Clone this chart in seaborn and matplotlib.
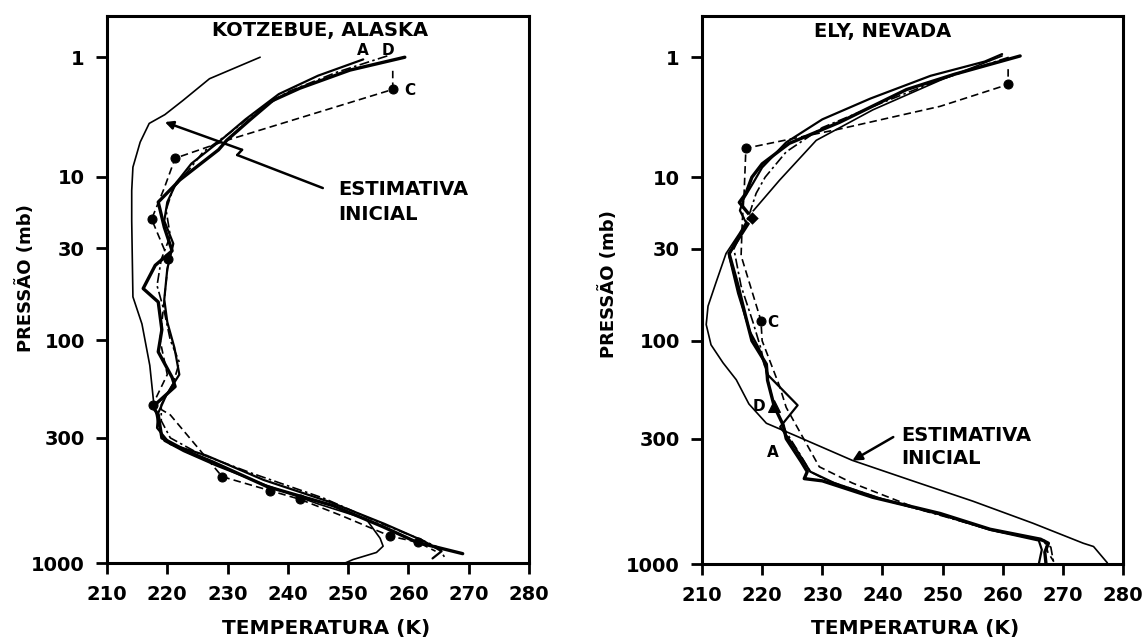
import numpy as np
import matplotlib
matplotlib.use("Agg")
import matplotlib.pyplot as plt
from matplotlib.ticker import FixedLocator, NullLocator
import seaborn as sns

# ---------------------------------------------------------------------------
# Temperature profiles (K) against pressure (mb)
# ---------------------------------------------------------------------------
pressure_ticks = [1, 10, 30, 100, 300, 1000]
pressure_labels = ["1", "10", "30", "100", "300", "1000"]
temp_ticks = [210, 220, 230, 240, 250, 260, 270, 280]
temp_labels = ["210", "220", "230", "240", "250", "260", "270", "280"]

# Kotzebue, Alaska
kotz_guess_T = [235.4, 227.0, 222.6, 219.6, 217.0, 215.5, 214.3, 214.1, 214.1, 214.2,
                214.3, 215.8, 217.1, 217.7, 218.5, 219.5, 222.7, 228.2, 236.0, 245.0,
                253.0, 255.3, 255.8, 254.7, 250.8, 249.5]
kotz_guess_p = [1.0, 1.6, 2.5, 3.3, 3.9, 5.5, 8.5, 12.5, 20, 35,
                58, 82, 135, 200, 260, 310, 345, 400, 480, 580,
                670, 800, 860, 910, 970, 1000]

kotz_a_T = [252.5, 245.0, 238.5, 233.0, 228.5, 224.0, 221.5, 220.0, 219.5, 221.0,
            220.0, 219.5, 220.0, 221.2, 222.0, 219.8, 218.5, 218.3, 220.5, 226.5,
            236.0, 247.0, 256.0, 262.5, 265.5, 264.0]
kotz_a_p = [1.05, 1.5, 2.2, 3.6, 5.5, 8, 11, 15, 20, 28,
            40, 60, 80, 110, 150, 190, 230, 270, 320, 360,
            460, 570, 700, 820, 900, 960]

kotz_b_T = [259.4, 250.3, 242.0, 237.5, 233.7, 229.9, 228.5, 222.1, 218.5, 219.5,
            220.8, 218.0, 216.0, 218.5, 219.1, 218.5, 220.8, 221.3, 217.6, 218.5,
            219.1, 223.3, 227.6, 236.5, 247.5, 255.8, 261.4, 264.0, 269.0]
kotz_b_p = [1.0, 1.33, 1.95, 2.5, 3.65, 5.3, 6.3, 10.5, 15, 22,
            31, 38, 52, 62, 88, 115, 155, 172, 215, 235,
            300, 345, 385, 490, 590, 720, 830, 860, 920]

kotz_d_T = [256.5, 248.0, 240.0, 234.5, 230.5, 226.0, 223.5, 221.0, 219.8, 220.5,
            219.0, 218.3, 219.5, 220.5, 222.0, 221.0, 219.0, 219.0, 220.5, 225.0,
            234.0, 246.0, 255.0, 261.0, 265.0, 266.0]
kotz_d_p = [0.97, 1.4, 2.1, 3.2, 4.6, 6.5, 9, 12, 17, 25,
            35, 50, 70, 100, 130, 165, 210, 250, 300, 350,
            430, 550, 690, 790, 870, 950]

kotz_c_T = [257.4, 257.4, 230.0, 221.3, 219.5, 217.4, 220.2, 219.5, 218.8, 220.0,
            217.6, 220.5, 229.1, 237.0, 242.0, 249.0, 257.0, 261.6, 264.5]
kotz_c_p = [1.35, 2.0, 5.3, 7.3, 12, 19.5, 35, 60, 100, 150,
            210, 235, 445, 510, 555, 650, 785, 830, 900]
kotz_c_obs = [1, 3, 5, 6, 10, 12, 13, 14, 16, 17]

# Ely, Nevada
ely_guess_T = [259.9, 249.6, 238.4, 229.0, 222.9, 218.3, 216.2, 214.0, 212.3, 211.0,
               210.7, 211.5, 213.5, 215.7, 217.8, 220.7, 225.7, 235.0, 245.0, 255.0,
               265.0, 273.4, 275.1, 277.4]
ely_guess_p = [0.97, 1.65, 3.0, 5.3, 10.5, 17.5, 24, 32, 48, 65,
               82, 105, 130, 158, 207, 255, 292, 375, 460, 560,
               690, 830, 855, 990]

ely_a_T = [259.9, 257.0, 248.0, 238.0, 230.0, 224.0, 220.0, 218.5, 217.0, 216.3,
           217.5, 215.5, 214.5, 216.0, 218.0, 219.5, 221.0, 225.9, 223.0, 225.5,
           228.0, 232.0, 240.0, 250.0, 258.0, 266.0, 266.5, 266.0]
ely_a_p = [0.93, 1.1, 1.5, 2.4, 3.6, 5.5, 8.5, 11, 14, 17,
           21, 27, 33, 55, 90, 110, 150, 210, 265, 330,
           420, 470, 550, 640, 735, 810, 880, 1000]

ely_b_T = [262.9, 252.0, 244.0, 232.9, 224.5, 220.0, 218.3, 217.3, 216.2, 218.3,
           214.5, 216.0, 217.3, 218.3, 220.7, 220.9, 222.0, 223.5, 224.0, 226.5,
           227.5, 227.0, 230.0, 238.4, 249.6, 257.9, 266.3, 267.6, 267.0, 267.2]
ely_b_p = [0.97, 1.45, 2.0, 3.8, 5.6, 8, 10, 13, 15, 19,
           32, 50, 75, 100, 132, 159, 212, 260, 300, 380,
           420, 450, 460, 540, 630, 730, 800, 830, 900, 1000]
ely_b_mark = [9]

ely_d_T = [261.0, 250.0, 240.0, 230.0, 224.0, 220.5, 219.0, 217.5, 215.3, 216.5,
           218.5, 219.8, 221.0, 222.0, 224.0, 226.5, 228.0, 231.0, 240.0, 250.0,
           258.5, 266.0, 268.0, 268.5]
ely_d_p = [1.0, 1.6, 2.6, 4.2, 6.5, 10, 13, 20, 30, 50,
           80, 110, 160, 212, 280, 360, 420, 460, 550, 645,
           740, 800, 860, 1000]
ely_d_mark = [13]

ely_c_T = [260.9, 260.9, 249.6, 233.0, 217.3, 217.0, 216.7, 216.5, 219.8, 220.0,
           222.9, 224.0, 229.5, 235.0, 245.0, 258.0, 267.0, 267.5, 268.5]
ely_c_p = [1.3, 1.8, 2.8, 4.3, 6.1, 13, 20, 33, 78, 100,
           170, 215, 400, 470, 590, 730, 810, 900, 980]
ely_c_obs = [1, 4, 8]

# ---------------------------------------------------------------------------
sns.set_style("ticks")
plt.rcParams["font.family"] = ["DejaVu Sans"]
plt.rcParams["font.weight"] = "bold"
plt.rcParams["text.color"] = "black"
plt.rcParams["axes.labelcolor"] = "black"
plt.rcParams["xtick.color"] = "black"
plt.rcParams["ytick.color"] = "black"

EXP = 0.135


def fwd(p):
    return np.power(np.clip(p, 1e-6, None), EXP)


def inv(y):
    return np.power(np.clip(y, 1e-6, None), 1.0 / EXP)


def profile(ax, T, p, lw, ls="-", **kw):
    sns.lineplot(x=T, y=p, ax=ax, sort=False, estimator=None, color="black",
                 linewidth=lw, linestyle=ls, **kw)


fig = plt.figure(figsize=(11.44, 6.39), dpi=100)
axL = fig.add_axes([107 / 1144, (639 - 563) / 639, 422 / 1144, 547 / 639])
axR = fig.add_axes([702 / 1144, (639 - 564) / 639, 421 / 1144, 548 / 639])

dashed = (0, (4.5, 2.5))
dashdot = (0, (6, 2, 1.5, 2))

# Kotzebue
profile(axL, kotz_guess_T, kotz_guess_p, 1.2)
profile(axL, kotz_a_T, kotz_a_p, 1.6)
profile(axL, kotz_b_T, kotz_b_p, 2.4)
profile(axL, kotz_d_T, kotz_d_p, 1.2, dashdot)
profile(axL, kotz_c_T, kotz_c_p, 1.2, dashed, marker="o", markersize=6.5,
        markevery=kotz_c_obs, markerfacecolor="black", markeredgecolor="black")

# Ely
profile(axR, ely_guess_T, ely_guess_p, 1.2)
profile(axR, ely_a_T, ely_a_p, 1.6)
profile(axR, ely_b_T, ely_b_p, 2.4, marker="D", markersize=7,
        markevery=ely_b_mark, markerfacecolor="black")
profile(axR, ely_d_T, ely_d_p, 1.2, dashdot, marker="^", markersize=8,
        markevery=ely_d_mark, markerfacecolor="black", markeredgecolor="black")
profile(axR, ely_c_T, ely_c_p, 1.2, dashed, marker="o", markersize=6.5,
        markevery=ely_c_obs, markerfacecolor="black", markeredgecolor="black")

for ax in (axL, axR):
    ax.set_yscale("function", functions=(fwd, inv))
    ax.set_xlim(210, 280)
    ax.set_ylim(1000, 0.37)
    ax.yaxis.set_major_locator(FixedLocator(pressure_ticks))
    ax.set_yticklabels(pressure_labels)
    ax.yaxis.set_minor_locator(NullLocator())
    ax.xaxis.set_major_locator(FixedLocator(temp_ticks))
    ax.set_xticklabels(temp_labels)
    ax.xaxis.set_minor_locator(NullLocator())
    ax.tick_params(direction="out", length=8, width=2, labelsize=14, pad=8,
                   color="black", labelcolor="black")
    for s in ax.spines.values():
        s.set_visible(True)
        s.set_linewidth(2.2)
        s.set_color("black")
    ax.set_xlabel("TEMPERATURA (K)", fontsize=14.5, fontweight="bold", color="black")
    ax.set_ylabel("PRESSÃO (mb)", fontsize=13, fontweight="bold", color="black")
    ax.xaxis.label.set_va("center")
    ax.yaxis.label.set_va("center")
    ax.set_facecolor("white")

axL.xaxis.set_label_coords(0.52, -0.119)
axR.xaxis.set_label_coords(0.506, -0.117)
axL.yaxis.set_label_coords(-0.194, 0.52)
axR.yaxis.set_label_coords(-0.223, 0.51)

axL.text(0.505, 0.974, "KOTZEBUE, ALASKA", transform=axL.transAxes,
         ha="center", va="center", fontsize=14, fontweight="bold", color="black")
axR.text(0.43, 0.972, "ELY, NEVADA", transform=axR.transAxes,
         ha="center", va="center", fontsize=14, fontweight="bold", color="black")

# curve letters
lab = dict(fontsize=11, fontweight="bold", va="center", color="black")
axL.text(252.5, 0.85, "A", ha="center", **lab)
axL.text(256.6, 0.85, "D", ha="center", **lab)
axL.text(259.3, 2.05, "C", ha="left", **lab)
axR.text(220.9, 80, "C", ha="left", **lab)
axR.text(219.4, 212, "D", ha="center", **lab)
axR.text(221.7, 345, "A", ha="center", **lab)

# initial-guess call-outs
note = dict(fontsize=14, fontweight="bold", ha="left", va="center", color="black")
axL.text(248.3, 15.0, "ESTIMATIVA\nINICIAL", linespacing=1.45, **note)
seg = dict(arrowstyle="-", color="black", lw=1.8, shrinkA=0, shrinkB=0)
axL.annotate("", xy=(231.6, 6.9), xytext=(245.8, 12.0), arrowprops=seg)
axL.annotate("", xy=(232.4, 6.3), xytext=(231.6, 6.9), arrowprops=seg)
axL.annotate("", xy=(219.6, 3.8), xytext=(232.4, 6.3),
             arrowprops=dict(arrowstyle="-|>", color="black", lw=1.8,
                             shrinkA=0, shrinkB=0, mutation_scale=12))

axR.text(243.2, 327, "ESTIMATIVA\nINICIAL", linespacing=1.25, **note)
axR.annotate("", xy=(235.0, 376), xytext=(241.8, 295),
             arrowprops=dict(arrowstyle="-|>", color="black", lw=1.8,
                             shrinkA=0, shrinkB=0, mutation_scale=14))

fig.savefig("out.png", dpi=100, facecolor="white")
